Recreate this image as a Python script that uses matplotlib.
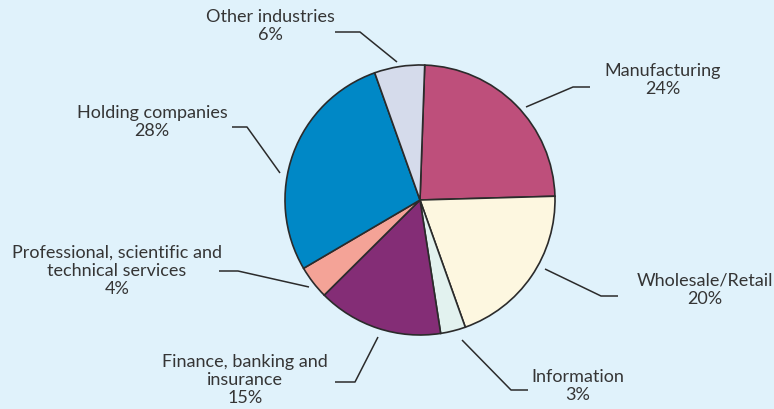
import matplotlib
matplotlib.use("Agg")
import matplotlib.pyplot as plt

# Share of companies by industry (clockwise from the top)
industries = ["Manufacturing", "Wholesale/Retail", "Information",
              "Finance, banking and\ninsurance",
              "Professional, scientific and\ntechnical services",
              "Holding companies", "Other industries"]
shares = [24, 20, 3, 15, 4, 28, 6]
colors = ["#be4f7b", "#fdf7e0", "#e2f2ef", "#842d76",
          "#f4a397", "#0088c6", "#d5dbeb"]

BG = "#e0f2fb"
INK = "#2b2b2b"
TXT = "#353535"

W, H = 774, 409
fig = plt.figure(figsize=(W / 100, H / 100), dpi=100, facecolor=BG)
ax = fig.add_axes([0, 0, 1, 1])
ax.set_facecolor(BG)

cx, cy, r = 420, H - 200, 135
ax.pie(shares, colors=colors, startangle=88, counterclock=False,
       center=(cx, cy), radius=r, frame=True,
       wedgeprops=dict(edgecolor=INK, linewidth=1.2))
ax.set_xlim(0, W)
ax.set_ylim(0, H)
ax.set_aspect("equal")
ax.axis("off")

# Leader lines: (start on pie, elbow, end) and label centre, in pixels from top-left
layout = [
    dict(pts=[(526, 107), (573, 87), (590, 87)], txt=(663, 80)),
    dict(pts=[(545, 269), (601, 296), (618, 296)], txt=(705, 290)),
    dict(pts=[(462, 340), (511, 390), (528, 390)], txt=(578, 386)),
    dict(pts=[(378, 337), (355, 382), (335, 382)], txt=(245, 380)),
    dict(pts=[(309, 287), (238, 271), (219, 271)], txt=(117, 271)),
    dict(pts=[(280, 173), (247, 127), (232, 127)], txt=(152, 122)),
    dict(pts=[(397, 62), (360, 32), (335, 32)], txt=(270, 26)),
]

for name, val, lay in zip(industries, shares, layout):
    xs = [p[0] for p in lay["pts"]]
    ys = [H - p[1] for p in lay["pts"]]
    ax.plot(xs, ys, color=INK, linewidth=1.1, solid_capstyle="butt")
    tx, ty = lay["txt"]
    ax.text(tx, H - ty, f"{name}\n{val}%", ha="center", va="center",
            fontsize=13, family="Lato", color=TXT, linespacing=1.18)

fig.savefig("out.png", dpi=100, facecolor=BG)
